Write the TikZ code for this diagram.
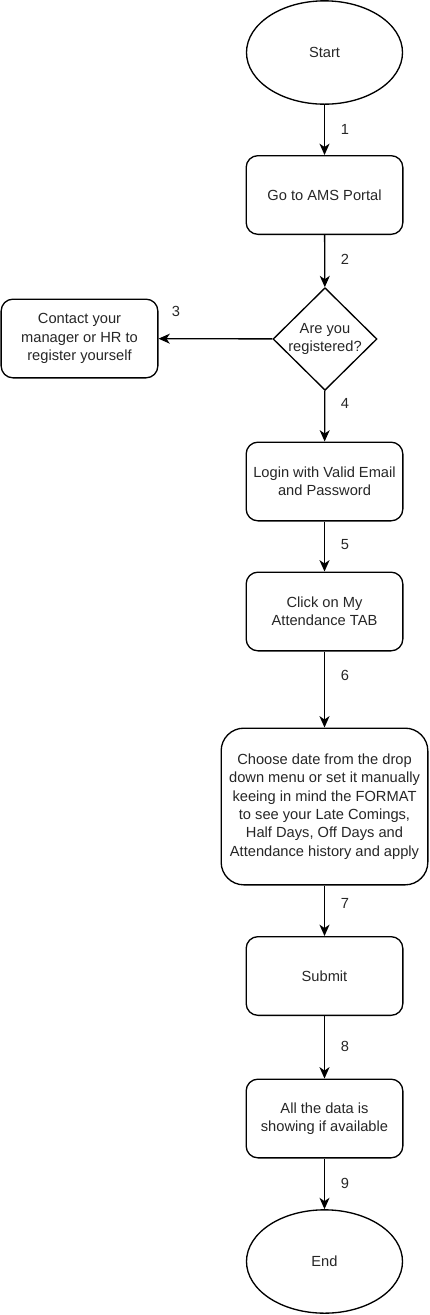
\documentclass[tikz,border=0pt]{standalone}
\usepackage{fontspec}
\setmainfont{Liberation Sans}
\usetikzlibrary{shapes.geometric,arrows.meta}
\begin{document}
\begin{tikzpicture}[x=0.75pt,y=-0.75pt,
  every node/.style={font=\fontsize{11}{13.75}\selectfont, text=black!85},
  base/.style={draw=black, line width=1pt, align=center, inner sep=2pt},
  term/.style={base, ellipse, minimum width=117pt, minimum height=77.5pt},
  proc/.style={base, rectangle, rounded corners=8.8pt, minimum width=117.5pt, minimum height=59pt},
  bigproc/.style={base, rectangle, rounded corners=17pt, minimum width=155pt, minimum height=117.5pt, inner sep=1pt},
  decision/.style={base, diamond, minimum width=78pt, minimum height=77pt, inner sep=0pt},
  flow/.style={draw=black, line width=1pt, -{Stealth[length=8.5pt,width=7.5pt,inset=2.5pt]}},
  num/.style={inner sep=0pt}]
\useasboundingbox (0,0) rectangle (429,1315);
\node[term] (start) at (324.5,52.5) {Start};
\node[proc] (portal) at (324.5,195) {Go to AMS Portal};
\node[decision] (reg) at (325,339) {};
\node[align=center, inner sep=0pt] (regtext) at (325,339) {Are you\\registered?};
\node[proc] (contact) at (79.5,338.5) {Contact your\\manager or HR to\\register yourself};
\node[proc] (login) at (324.5,481.5) {Login with Valid Email\\and Password};
\node[proc] (click) at (324.5,611.5) {Click on My\\Attendance TAB};
\node[bigproc] (choose) at (324.5,806.5) {Choose date from the drop\\down menu or set it manually\\keeing in mind the FORMAT\\to see your Late Comings,\\Half Days, Off Days and\\Attendance history and apply};
\node[proc] (submit) at (324.5,976) {Submit};
\node[proc] (data) at (324.5,1118.5) {All the data is\\showing if available};
\node[term] (end) at (324.5,1261.5) {End};
\draw[flow] (start) -- (portal);
\draw[flow] (portal) -- (reg);
\draw[flow] (reg) -- (contact);
\draw[flow] (reg) -- (login);
\draw[flow] (login) -- (click);
\draw[flow] (click) -- (choose);
\draw[flow] (choose) -- (submit);
\draw[flow] (submit) -- (data);
\draw[flow] (data) -- (end);
\node[num] (n1) at (345,129) {1};
\node[num] (n2) at (345,259) {2};
\node[num] (n3) at (176,311) {3};
\node[num] (n4) at (345,403) {4};
\node[num] (n5) at (345,545) {5};
\node[num] (n6) at (345,675) {6};
\node[num] (n7) at (345,903) {7};
\node[num] (n8) at (345,1046) {8};
\node[num] (n9) at (345,1183) {9};
\end{tikzpicture}
\end{document}
